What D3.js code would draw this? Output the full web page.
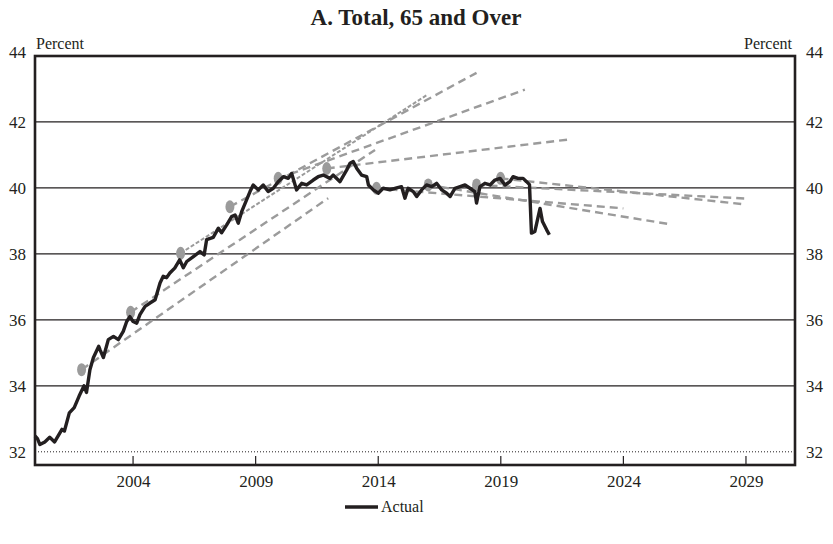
<!DOCTYPE html>
<html>
<head>
<meta charset="utf-8">
<script src="https://cdn.jsdelivr.net/npm/d3@7"></script>
<style>
  body { margin: 0; background: #fff; }
  svg { display: block; font-family: "Liberation Serif", "DejaVu Serif", serif; }
</style>
</head>
<body>
<svg id="chart" width="833" height="544"></svg>
<script>
// ---------------- data ----------------
const actualYears = [2000.0,2000.1,2000.2,2000.4,2000.6,2000.8,2001.1,2001.2,2001.4,2001.6,2001.8,2002.0,2002.1,2002.24,2002.38,2002.6,2002.65,2002.79,2002.99,2003.2,2003.4,2003.6,2003.74,2003.87,2004.0,2004.15,2004.28,2004.49,2004.69,2004.9,2005.1,2005.23,2005.37,2005.5,2005.7,2005.9,2006.05,2006.19,2006.46,2006.73,2006.9,2007.0,2007.27,2007.48,2007.61,2007.82,2008.02,2008.16,2008.29,2008.43,2008.63,2008.77,2008.9,2009.11,2009.31,2009.51,2009.72,2009.92,2010.13,2010.33,2010.47,2010.67,2010.88,2011.08,2011.35,2011.55,2011.76,2012.03,2012.16,2012.44,2012.71,2012.85,2012.98,2013.12,2013.32,2013.53,2013.6,2013.8,2014.0,2014.2,2014.48,2014.75,2014.95,2015.09,2015.22,2015.43,2015.57,2015.77,2015.97,2016.18,2016.38,2016.59,2016.79,2016.93,2017.13,2017.34,2017.54,2017.74,2017.94,2018.01,2018.15,2018.35,2018.56,2018.76,2018.97,2019.17,2019.37,2019.5,2019.7,2019.91,2020.05,2020.17,2020.25,2020.39,2020.6,2020.7,2020.87,2020.98];
const actualValues = [32.48,32.40,32.22,32.30,32.44,32.30,32.68,32.63,33.18,33.34,33.69,34.00,33.80,34.49,34.85,35.20,35.10,34.86,35.40,35.50,35.40,35.65,35.95,36.10,35.95,35.90,36.16,36.41,36.51,36.61,37.12,37.32,37.28,37.42,37.57,37.82,37.58,37.77,37.92,38.07,37.97,38.43,38.50,38.78,38.64,38.88,39.13,39.18,38.93,39.28,39.64,39.89,40.09,39.94,40.09,39.89,39.99,40.19,40.34,40.29,40.44,39.94,40.14,40.09,40.24,40.34,40.39,40.29,40.39,40.19,40.54,40.75,40.80,40.60,40.39,40.34,40.09,39.94,39.84,39.99,39.94,40.00,40.04,39.69,39.99,39.89,39.74,39.94,40.09,40.04,40.14,39.94,39.84,39.74,39.99,40.04,40.09,39.99,39.89,39.54,40.04,40.14,40.09,40.24,40.29,40.09,40.19,40.34,40.29,40.29,40.19,40.10,38.63,38.68,39.38,38.98,38.73,38.58];

// projection vintages: starting point (dot) and end point of each projection
const projStartYears  = [2001.9, 2003.9, 2005.94, 2007.95, 2009.92, 2011.9, 2013.93, 2016.04, 2018.01, 2018.99];
const projStartValues = [34.49, 36.23, 38.02, 39.43, 40.29, 40.59, 39.99, 40.09, 40.09, 40.29];
const projEndYears    = [2011.96, 2013.87, 2015.97, 2018.01, 2019.98, 2021.9, 2024.0, 2025.9, 2028.96, 2028.96];
const projEndValues   = [39.69, 41.15, 42.81, 43.49, 42.98, 41.48, 39.38, 38.90, 39.68, 39.50];

const yTicks = [32, 34, 36, 38, 40, 42, 44];
const xTicks = [2004, 2009, 2014, 2019, 2024, 2029];
const titleText = "A. Total, 65 and Over";
const unitLabel = "Percent";
const legendLabel = "Actual";

// ---------------- layout ----------------
const svg = d3.select("#chart");
const L = 35, R = 795, T = 56, B = 465;
const x = d3.scaleLinear().domain([2000, 2031]).range([L, R]);
const y = d3.scaleLinear().domain([31.6, 44]).range([B, T]);
const ink = "#231f20";
const grey = "#9b9b9b";

// title
svg.append("text").attr("x", 416).attr("y", 25).attr("text-anchor", "middle")
  .attr("font-size", 23).attr("font-weight", "bold").attr("fill", ink).text(titleText);

// unit labels
svg.append("text").attr("x", 36).attr("y", 49).attr("font-size", 16).attr("fill", ink).text(unitLabel);
svg.append("text").attr("x", 792).attr("y", 49).attr("text-anchor", "end").attr("font-size", 16).attr("fill", ink).text(unitLabel);

// gridlines
const grid = svg.append("g");
grid.selectAll("line.g").data(yTicks.filter(v => v > 32 && v < 44)).join("line")
  .attr("x1", L).attr("x2", R).attr("y1", d => y(d)).attr("y2", d => y(d))
  .attr("stroke", ink).attr("stroke-width", 1.2);
grid.append("line").attr("x1", L).attr("x2", R).attr("y1", y(32)).attr("y2", y(32))
  .attr("stroke", ink).attr("stroke-width", 1).attr("stroke-dasharray", "1,2");

// left / right axes (labels only)
const yAxisL = d3.axisLeft(y).tickValues(yTicks).tickSize(0).tickPadding(9).tickFormat(d3.format("d"));
const gL = svg.append("g").attr("transform", `translate(${L},0)`).call(yAxisL);
const yAxisR = d3.axisRight(y).tickValues(yTicks).tickSize(0).tickPadding(11).tickFormat(d3.format("d"));
const gR = svg.append("g").attr("transform", `translate(${R},0)`).call(yAxisR);
[gL, gR].forEach(g => {
  g.select(".domain").remove();
  g.selectAll("text").attr("font-size", 17).attr("fill", ink)
    .attr("font-family", "Liberation Serif, serif");
});
gL.selectAll(".tick").filter(d => d === 44).select("text").attr("dy", "0.1em");
gR.selectAll(".tick").filter(d => d === 44).select("text").attr("dy", "0.1em");

// bottom axis: inside ticks + labels below
const xAxis = d3.axisBottom(x).tickValues(xTicks).tickSize(0).tickPadding(10).tickFormat(d3.format("d"));
const gX = svg.append("g").attr("transform", `translate(0,${B})`).call(xAxis);
gX.select(".domain").remove();
gX.selectAll("text").attr("font-size", 17).attr("fill", ink).attr("font-family", "Liberation Serif, serif");
svg.append("g").selectAll("line").data(xTicks).join("line")
  .attr("x1", d => x(d)).attr("x2", d => x(d)).attr("y1", B).attr("y2", B - 9)
  .attr("stroke", ink).attr("stroke-width", 1.2);

// dots (projection starting points)
const proj = projStartYears.map((s, i) => ({
  x0: s, y0: projStartValues[i], x1: projEndYears[i], y1: projEndValues[i], i
}));
svg.append("g").selectAll("ellipse").data(proj).join("ellipse")
  .attr("cx", d => x(d.x0)).attr("cy", d => y(d.y0)).attr("rx", 4.5).attr("ry", 6.5)
  .attr("fill", grey);

// projection dashed lines
svg.append("g").selectAll("line").data(proj).join("line")
  .attr("x1", d => x(d.x0)).attr("y1", d => y(d.y0))
  .attr("x2", d => x(d.x1)).attr("y2", d => y(d.y1))
  .attr("stroke", grey)
  .attr("stroke-width", d => d.i === 2 ? 2 : 2.4)
  .attr("stroke-dasharray", d => d.i === 2 ? "4,2" : "8,5");

// actual line
const actual = actualYears.map((yr, i) => [yr, actualValues[i]]);
svg.append("path").datum(actual)
  .attr("d", d3.line().x(d => x(d[0])).y(d => y(d[1])))
  .attr("fill", "none").attr("stroke", ink).attr("stroke-width", 3.4)
  .attr("stroke-linejoin", "round");

// frame
svg.append("rect").attr("x", L).attr("y", T).attr("width", R - L).attr("height", B - T)
  .attr("fill", "none").attr("stroke", ink).attr("stroke-width", 2.6);

// legend
const lg = svg.append("g");
lg.append("line").attr("x1", 345).attr("x2", 378).attr("y1", 507).attr("y2", 507)
  .attr("stroke", ink).attr("stroke-width", 3.4);
lg.append("text").attr("x", 381).attr("y", 512).attr("font-size", 16).attr("fill", ink).text(legendLabel);
</script>
</body>
</html>
